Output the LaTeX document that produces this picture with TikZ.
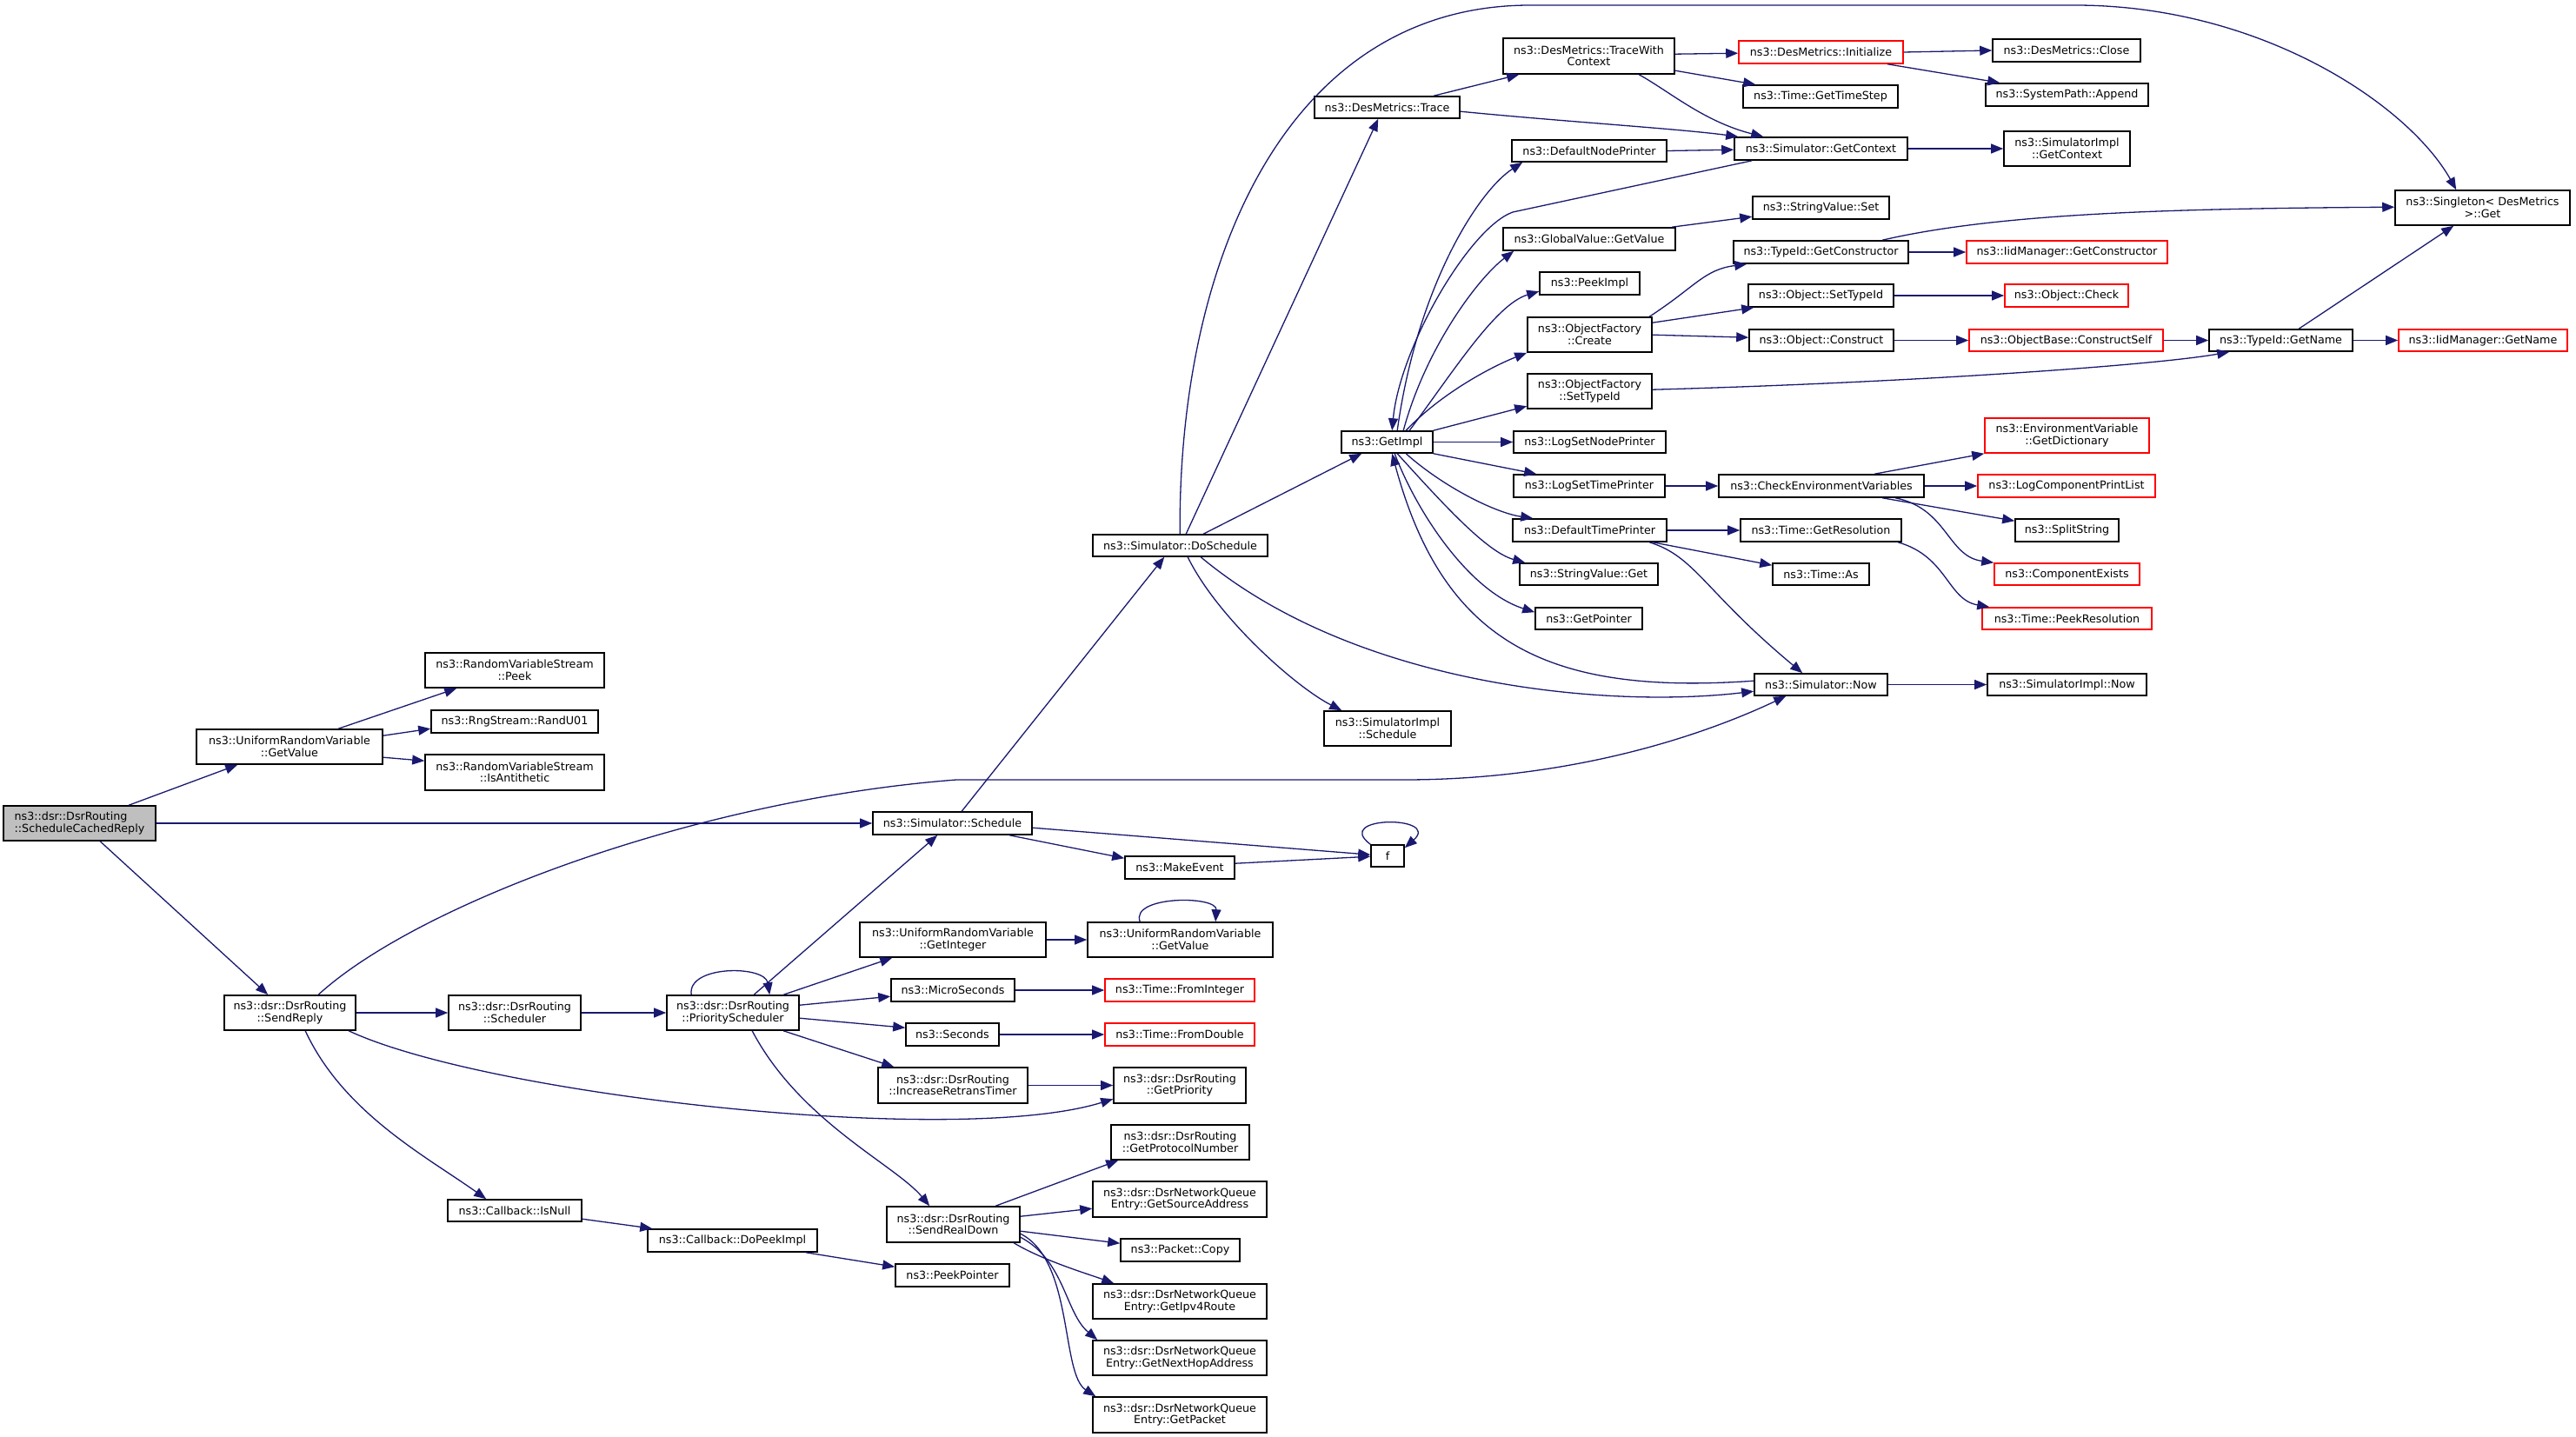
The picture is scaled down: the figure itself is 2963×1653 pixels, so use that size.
\documentclass[tikz,border=0pt]{standalone}
\usepackage{fontspec}
\setmainfont{DejaVu Sans}
\usetikzlibrary{arrows.meta}
\definecolor{edgec}{RGB}{25,25,112}
\definecolor{rootfill}{RGB}{191,191,191}
\tikzset{
 box/.style={draw=black, line width=1.6pt, fill=white, inner sep=0pt, align=center, font=\fontsize{12.7pt}{13.5pt}\selectfont},
 redbox/.style={draw=red},
 rootbox/.style={fill=rootfill, align=left},
 e/.style={draw=edgec, line width=1.3pt, -{Triangle[length=14pt,width=11pt]}},
}
\newcommand\bx[7][]{\node[box,#1,minimum width={(#5-#3)*1pt},minimum height={(#6-#4)*1pt}] (#2) at ({(#3+#5)/2},{(#4+#6)/2}) {#7};}
\begin{document}
\begin{tikzpicture}[x=1pt,y=-1pt]
\useasboundingbox (0,0) rectangle (2963,1653);
% nodes
\bx[rootbox]{root}{4}{927}{179}{967}{ns3::dsr::DsrRouting\\::ScheduleCachedReply}
\bx{gvurv}{226}{839}{440}{879}{ns3::UniformRandomVariable\\::GetValue}
\bx{peek}{489}{751}{695}{791}{ns3::RandomVariableStream\\::Peek}
\bx{randu}{496}{817}{688}{843}{ns3::RngStream::RandU01}
\bx{anti}{489}{868}{695}{909}{ns3::RandomVariableStream\\::IsAntithetic}
\bx{sched}{1004}{934}{1187}{960}{ns3::Simulator::Schedule}
\bx{sendreply}{258}{1145}{409}{1185}{ns3::dsr::DsrRouting\\::SendReply}
\bx{scheduler}{516}{1145}{668}{1185}{ns3::dsr::DsrRouting\\::Scheduler}
\bx{prio}{767}{1145}{919}{1185}{ns3::dsr::DsrRouting\\::PriorityScheduler}
\bx{getint}{989}{1061}{1203}{1101}{ns3::UniformRandomVariable\\::GetInteger}
\bx{gv2}{1251}{1061}{1464}{1101}{ns3::UniformRandomVariable\\::GetValue}
\bx{micro}{1025}{1126}{1167}{1152}{ns3::MicroSeconds}
\bx[redbox]{fromint}{1271}{1126}{1443}{1152}{ns3::Time::FromInteger}
\bx{seconds}{1042}{1177}{1149}{1203}{ns3::Seconds}
\bx[redbox]{fromdbl}{1271}{1177}{1443}{1203}{ns3::Time::FromDouble}
\bx{incr}{1010}{1228}{1182}{1269}{ns3::dsr::DsrRouting\\::IncreaseRetransTimer}
\bx{getprio}{1281}{1228}{1433}{1269}{ns3::dsr::DsrRouting\\::GetPriority}
\bx{protonum}{1278}{1294}{1437}{1334}{ns3::dsr::DsrRouting\\::GetProtocolNumber}
\bx{srcaddr}{1257}{1359}{1457}{1400}{ns3::dsr::DsrNetworkQueue\\Entry::GetSourceAddress}
\bx{pcopy}{1289}{1425}{1426}{1451}{ns3::Packet::Copy}
\bx{ipv4}{1257}{1477}{1457}{1517}{ns3::dsr::DsrNetworkQueue\\Entry::GetIpv4Route}
\bx{nexthop}{1257}{1542}{1457}{1582}{ns3::dsr::DsrNetworkQueue\\Entry::GetNextHopAddress}
\bx{getpacket}{1257}{1607}{1457}{1648}{ns3::dsr::DsrNetworkQueue\\Entry::GetPacket}
\bx{srd}{1020}{1388}{1173}{1429}{ns3::dsr::DsrRouting\\::SendRealDown}
\bx{isnull}{515}{1380}{669}{1405}{ns3::Callback::IsNull}
\bx{dopeek}{745}{1414}{940}{1440}{ns3::Callback::DoPeekImpl}
\bx{peekptr}{1030}{1454}{1161}{1480}{ns3::PeekPointer}
\bx{makeevent}{1294}{985}{1420}{1011}{ns3::MakeEvent}
\bx{f}{1577}{972}{1615}{997}{f}
\bx{dosched}{1257}{615}{1458}{640}{ns3::Simulator::DoSchedule}
\bx{simimplsched}{1523}{818}{1669}{858}{ns3::SimulatorImpl\\::Schedule}
\bx{now}{2018}{775}{2171}{800}{ns3::Simulator::Now}
\bx{simimplnow}{2286}{775}{2469}{800}{ns3::SimulatorImpl::Now}
\bx{getimpl}{1543}{496}{1648}{521}{ns3::GetImpl}
\bx{trace}{1512}{111}{1679}{136}{ns3::DesMetrics::Trace}
\bx{twc}{1729}{44}{1926}{85}{ns3::DesMetrics::TraceWith\\Context}
\bx[redbox]{init}{2000}{47}{2189}{73}{ns3::DesMetrics::Initialize}
\bx{close}{2292}{45}{2462}{71}{ns3::DesMetrics::Close}
\bx{append}{2284}{96}{2471}{122}{ns3::SystemPath::Append}
\bx{timestep}{2005}{98}{2183}{124}{ns3::Time::GetTimeStep}
\bx{getctx}{1995}{158}{2194}{184}{ns3::Simulator::GetContext}
\bx{implctx}{2305}{151}{2450}{191}{ns3::SimulatorImpl\\::GetContext}
\bx{defnode}{1739}{161}{1917}{186}{ns3::DefaultNodePrinter}
\bx{svset}{2016}{226}{2173}{252}{ns3::StringValue::Set}
\bx{gvget}{1729}{262}{1927}{288}{ns3::GlobalValue::GetValue}
\bx{getctor}{1994}{277}{2195}{303}{ns3::TypeId::GetConstructor}
\bx[redbox]{iidctor}{2262}{277}{2493}{303}{ns3::IidManager::GetConstructor}
\bx{peekimpl}{1771}{313}{1886}{339}{ns3::PeekImpl}
\bx{setTypeId}{2011}{327}{2178}{353}{ns3::Object::SetTypeId}
\bx[redbox]{check}{2306}{327}{2448}{353}{ns3::Object::Check}
\bx{ofcreate}{1757}{365}{1900}{405}{ns3::ObjectFactory\\::Create}
\bx{construct}{2012}{379}{2178}{404}{ns3::Object::Construct}
\bx[redbox]{constructself}{2265}{379}{2488}{404}{ns3::ObjectBase::ConstructSelf}
\bx{tgetname}{2541}{379}{2706}{404}{ns3::TypeId::GetName}
\bx[redbox]{iidname}{2759}{379}{2953}{404}{ns3::IidManager::GetName}
\bx{ofsettid}{1757}{430}{1900}{470}{ns3::ObjectFactory\\::SetTypeId}
\bx{singleton}{2755}{219}{2956}{259}{ns3::Singleton< DesMetrics\\ >::Get}
\bx{logsetnode}{1741}{496}{1916}{521}{ns3::LogSetNodePrinter}
\bx{logsettime}{1741}{546}{1915}{572}{ns3::LogSetTimePrinter}
\bx{checkenv}{1977}{546}{2213}{572}{ns3::CheckEnvironmentVariables}
\bx[redbox]{dict}{2283}{481}{2472}{521}{ns3::EnvironmentVariable\\::GetDictionary}
\bx[redbox]{lcpl}{2275}{546}{2479}{572}{ns3::LogComponentPrintList}
\bx{split}{2318}{597}{2437}{623}{ns3::SplitString}
\bx[redbox]{compexists}{2294}{648}{2461}{673}{ns3::ComponentExists}
\bx{deftime}{1740}{597}{1917}{623}{ns3::DefaultTimePrinter}
\bx{getres}{2002}{597}{2187}{623}{ns3::Time::GetResolution}
\bx{timeas}{2039}{648}{2150}{673}{ns3::Time::As}
\bx{svget}{1748}{648}{1907}{673}{ns3::StringValue::Get}
\bx{getpointer}{1766}{699}{1889}{724}{ns3::GetPointer}
\bx[redbox]{peekres}{2280}{699}{2475}{724}{ns3::Time::PeekResolution}
% edges
\draw[e] ([xshift=145pt]root.north west) -- ([xshift=48pt]gvurv.south west);
\draw[e] (root.east) -- (sched.west);
\draw[e] ([xshift=112pt]root.south west) -- ([xshift=51pt]sendreply.north west);
\draw[e] ([xshift=164pt]gvurv.north west) -- ([xshift=37pt]peek.south west);
\draw[e] ([yshift=-8pt]gvurv.north east) -- ([yshift=-22pt]randu.north west);
\draw[e] ([yshift=-33pt]gvurv.north east) -- ([yshift=-8pt]anti.north west);
\draw[e] (sendreply.east) -- (scheduler.west);
\draw[e] ([xshift=109pt]sendreply.north west) .. controls (480,1040) and (800,920) .. (1100,897) -- (1615,897) .. controls (1800,897) and (1950,850) .. ([xshift=37pt]now.south west);
\draw[e] ([xshift=144pt]sendreply.south west) .. controls (560,1260) and (1100,1320) .. ([yshift=-37pt]getprio.north west);
\draw[e] ([xshift=94pt]sendreply.south west) .. controls (395,1280) and (490,1330) .. ([xshift=45pt]isnull.north west);
\draw[e] (scheduler.east) -- (prio.west);
\draw[e] ([xshift=29pt]prio.north west) .. controls (790,1110) and (880,1110) .. ([xshift=119pt]prio.north west);
\draw[e] ([xshift=101pt]prio.north west) -- ([xshift=75pt]sched.south west);
\draw[e] ([xshift=135pt]prio.north west) -- ([xshift=38pt]getint.south west);
\draw[e] ([yshift=-12pt]prio.north east) -- ([yshift=-21pt]micro.north west);
\draw[e] ([yshift=-27pt]prio.north east) -- ([yshift=-6pt]seconds.north west);
\draw[e] ([xshift=135pt]prio.south west) -- ([xshift=19pt]incr.north west);
\draw[e] ([xshift=99pt]prio.south west) .. controls (920,1290) and (1030,1340) .. ([xshift=50pt]srd.north west);
\draw[e] (getint.east) -- (gv2.west);
\draw[e] ([xshift=61pt]gv2.north west) .. controls (1300,1030) and (1400,1030) .. ([xshift=148pt]gv2.north west);
\draw[e] (micro.east) -- (fromint.west);
\draw[e] (seconds.east) -- (fromdbl.west);
\draw[e] (incr.east) -- (getprio.west);
\draw[e] ([xshift=126pt]srd.north west) -- ([xshift=9pt]protonum.south west);
\draw[e] ([yshift=-12pt]srd.north east) -- ([yshift=-32pt]srcaddr.north west);
\draw[e] ([yshift=-29pt]srd.north east) -- ([yshift=-6pt]pcopy.north west);
\draw[e] ([xshift=147pt]srd.south west) .. controls (1200,1450) and (1250,1465) .. ([xshift=25pt]ipv4.north west);
\draw[e] ([yshift=-36pt]srd.north east) .. controls (1225,1450) and (1225,1510) .. ([xshift=6pt]nexthop.north west);
\draw[e] ([yshift=-32pt]srd.north east) .. controls (1235,1450) and (1220,1580) .. ([xshift=4pt]getpacket.north west);
\draw[e] ([yshift=-23pt]isnull.north east) -- ([xshift=6pt]dopeek.north west);
\draw[e] ([xshift=183pt]dopeek.south west) -- ([yshift=-4pt]peekptr.north west);
\draw[e] ([xshift=103pt]sched.north west) -- ([xshift=83pt]dosched.south west);
\draw[e] ([xshift=158pt]sched.south west) -- ([yshift=-3pt]makeevent.north west);
\draw[e] ([yshift=-19pt]sched.north east) -- ([yshift=-12pt]f.north west);
\draw[e] ([yshift=-9pt]makeevent.north east) -- ([yshift=-14pt]f.north west);
\draw[e] (f.north west) .. controls (1532,938) and (1658,938) .. ([yshift=-4pt]f.north east);
\draw[e] ([xshift=101pt]dosched.north west) .. controls (1355,300) and (1480,6) .. (1760,6) -- (2387,6) .. controls (2600,6) and (2770,120) .. ([xshift=71pt]singleton.north west);
\draw[e] ([xshift=108pt]dosched.north west) -- ([xshift=74pt]trace.south west);
\draw[e] ([xshift=128pt]dosched.north west) -- ([xshift=24pt]getimpl.south west);
\draw[e] ([xshift=110pt]dosched.south west) .. controls (1400,710) and (1490,790) .. ([xshift=21pt]simimplsched.north west);
\draw[e] ([xshift=125pt]dosched.south west) .. controls (1560,790) and (1850,815) .. ([yshift=-21pt]now.north west);
\draw[e] ([xshift=138pt]trace.north west) -- ([xshift=19pt]twc.south west);
\draw[e] ([yshift=-18pt]trace.north east) .. controls (1800,140) and (1930,148) .. ([xshift=5pt]getctx.north west);
\draw[e] ([yshift=-19pt]twc.north east) -- ([yshift=-15pt]init.north west);
\draw[e] ([yshift=-38pt]twc.north east) -- ([xshift=15pt]timestep.north west);
\draw[e] ([xshift=157pt]twc.south west) .. controls (1920,105) and (1960,140) .. ([xshift=34pt]getctx.north west);
\draw[e] (init.east) -- (close.west);
\draw[e] ([xshift=172pt]init.south west) -- ([xshift=17pt]append.north west);
\draw[e] (defnode.east) -- ([yshift=-15pt]getctx.north west);
\draw[e] (getctx.east) -- (implctx.west);
\draw[e] ([xshift=21pt]getctx.south west) -- (1740,244) .. controls (1690,262) and (1610,400) .. ([xshift=59pt]getimpl.north west);
\draw[e] ([xshift=65pt]getimpl.north west) .. controls (1630,330) and (1700,220) .. ([xshift=13pt]defnode.south west);
\draw[e] ([xshift=72pt]getimpl.north west) .. controls (1640,400) and (1700,320) .. ([xshift=13pt]gvget.south west);
\draw[e] ([xshift=79pt]getimpl.north west) .. controls (1670,430) and (1720,350) .. ([yshift=-23pt]peekimpl.north west);
\draw[e] ([xshift=75pt]getimpl.north west) .. controls (1660,450) and (1720,420) .. (ofcreate.south west);
\draw[e] (getimpl.north east) -- ([yshift=-38pt]ofsettid.north west);
\draw[e] (getimpl.east) -- (logsetnode.west);
\draw[e] (getimpl.south east) -- ([xshift=27pt]logsettime.north west);
\draw[e] ([xshift=75pt]getimpl.south west) .. controls (1660,560) and (1720,590) .. ([xshift=24pt]deftime.north west);
\draw[e] ([xshift=65pt]getimpl.south west) .. controls (1660,580) and (1710,635) .. ([xshift=7pt]svget.north west);
\draw[e] ([xshift=62pt]getimpl.south west) .. controls (1630,590) and (1690,680) .. ([yshift=-6pt]getpointer.north west);
\draw[e] ([yshift=-9pt]now.north west) .. controls (1780,800) and (1660,740) .. ([xshift=59pt]getimpl.south west);
\draw[e] ([xshift=195pt]gvget.north west) -- ([yshift=-24pt]svset.north west);
\draw[e] ([xshift=141pt]ofcreate.north west) .. controls (1950,330) and (1960,310) .. ([xshift=16pt]getctor.south west);
\draw[e] ([yshift=-7pt]ofcreate.north east) -- ([xshift=7pt]setTypeId.south west);
\draw[e] ([yshift=-21pt]ofcreate.north east) -- ([yshift=-10pt]construct.north west);
\draw[e] ([yshift=-19pt]ofsettid.north east) .. controls (2200,440) and (2480,420) .. ([xshift=24pt]tgetname.south west);
\draw[e] ([xshift=172pt]getctor.north west) .. controls (2300,245) and (2500,240) .. ([yshift=-20pt]singleton.north west);
\draw[e] (getctor.east) -- (iidctor.west);
\draw[e] (setTypeId.east) -- (check.west);
\draw[e] (construct.east) -- (constructself.west);
\draw[e] (constructself.east) -- (tgetname.west);
\draw[e] (tgetname.east) -- (iidname.west);
\draw[e] ([xshift=104pt]tgetname.north west) -- ([xshift=68pt]singleton.south west);
\draw[e] (logsettime.east) -- (checkenv.west);
\draw[e] ([xshift=180pt]checkenv.north west) -- (dict.south west);
\draw[e] (checkenv.east) -- (lcpl.west);
\draw[e] ([xshift=189pt]checkenv.south west) -- ([yshift=-3pt]split.north west);
\draw[e] ([xshift=204pt]checkenv.south west) .. controls (2240,585) and (2240,640) .. (compexists.north west);
\draw[e] (deftime.east) -- (getres.west);
\draw[e] ([xshift=162pt]deftime.south west) -- ([yshift=-3pt]timeas.north west);
\draw[e] ([xshift=158pt]deftime.south west) .. controls (1950,640) and (1960,680) .. ([xshift=56pt]now.north west);
\draw[e] ([xshift=182pt]getres.south west) .. controls (2240,640) and (2240,690) .. ([xshift=9pt]peekres.north west);
\draw[e] (now.east) -- (simimplnow.west);
\end{tikzpicture}
\end{document}
